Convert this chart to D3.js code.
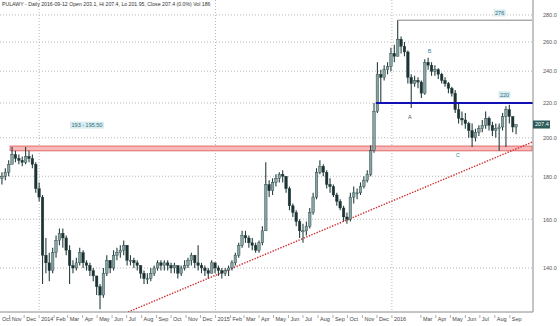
<!DOCTYPE html>
<html>
<head>
<meta charset="utf-8">
<script src="https://cdn.jsdelivr.net/npm/d3@7"></script>
<style>
  body { margin: 0; background: #fff; }
  svg { display: block; font-family: "Liberation Sans", Arial, sans-serif; }
</style>
</head>
<body>
<div id="chart"></div>
<script>
/*------------------------------------------*/
/*            Data (weekly bars)            */
/*------------------------------------------*/

var firstWeek = "2013-10-14";
var firstOpen = 179;

var highs = [182, 184, 188, 195, 193, 191, 190, 195, 193, 191,
  187, 177, 171, 152, 146, 148, 153, 156, 156, 153,
  149, 143, 144, 148, 147, 143, 142, 140, 137, 134,
  140, 145, 143, 147, 148, 149, 151, 149, 145, 144,
  143, 141, 139, 138, 140, 141, 143, 143, 143, 143,
  142, 142, 140, 141, 143, 144, 146, 145, 149, 142,
  141, 140, 143, 142, 141, 140, 140, 141, 143, 146,
  150, 155, 155, 153, 152, 150, 151, 157, 187, 178,
  179, 181, 182, 183, 180, 175, 167, 164, 160, 158,
  159, 165, 172, 184, 188, 186, 183, 179, 176, 172,
  169, 166, 163, 172, 175, 174, 177, 180, 183, 196,
  220, 246, 241, 244, 246, 256, 258, 276, 264, 260,
  254, 238, 237, 236, 234, 248, 249, 246, 244, 242,
  239, 236, 233, 230, 228, 220, 215, 214, 209, 208,
  205, 207, 210, 215, 212, 209, 208, 208, 214, 218,
  219, 212, 207.4];

var lows = [176, 178, 180, 186, 187, 186, 185, 186, 187, 184,
  172, 168, 134, 138, 135, 138, 144, 149, 148, 145,
  134, 138, 139, 141, 140, 139, 137, 135, 130, 125,
  129, 137, 138, 139, 143, 144, 145, 141, 141, 140,
  139, 136, 134, 134, 135, 137, 139, 139, 139, 139,
  138, 138, 136, 137, 139, 140, 141, 140, 139, 138,
  137, 136, 138, 138, 137, 136, 137, 137, 139, 141,
  144, 148, 150, 148, 147, 146, 146, 149, 155, 170,
  171, 175, 177, 177, 172, 164, 161, 157, 152, 150,
  153, 156, 162, 169, 181, 180, 174, 172, 170, 166,
  164, 159, 158, 159, 167, 169, 171, 174, 177, 180,
  192, 214, 220, 234, 238, 240, 246, 250, 252, 250,
  232, 217, 230, 229, 223, 225, 241, 237, 237, 235,
  232, 230, 226, 224, 214, 208, 207, 205, 200, 195,
  198, 201, 203, 205, 204, 201, 200, 193, 204, 195,
  208, 203, 201.95];

var closes = [180, 182, 186, 191, 189, 188, 187, 190, 189, 186,
  174, 170, 145, 142, 139, 146, 151, 154, 152, 147,
  141, 140, 142, 146, 142, 141, 139, 137, 133, 130,
  138, 143, 140, 145, 146, 147, 149, 143, 143, 142,
  141, 138, 136, 136, 138, 140, 142, 141, 142, 141,
  140, 141, 138, 140, 141, 143, 145, 142, 141, 140,
  139, 138, 142, 140, 139, 138, 139, 140, 142, 145,
  149, 153, 152, 150, 149, 147, 150, 155, 176, 173,
  177, 179, 181, 180, 174, 166, 163, 159, 155, 155,
  157, 163, 170, 182, 185, 182, 176, 175, 171, 168,
  165, 161, 160, 170, 172, 172, 175, 178, 181, 193,
  215, 238, 236, 241, 243, 252, 250, 262, 257, 253,
  236, 232, 234, 233, 226, 246, 244, 240, 241, 238,
  234, 232, 229, 226, 216, 211, 210, 208, 204, 200,
  203, 205, 207, 211, 207, 204, 205, 206, 212, 216,
  212, 206, 207.4];

var priceTicks = [140, 160, 180, 200, 220, 240, 260, 280];
var yearLines = ["2014-01-01", "2015-01-01", "2016-01-01"];

var monthTicks = ["2013-10-01", "2013-11-01", "2013-12-01",
  "2014-01-01", "2014-02-01", "2014-03-01", "2014-04-01", "2014-05-01", "2014-06-01",
  "2014-07-01", "2014-08-01", "2014-09-01", "2014-10-01", "2014-11-01", "2014-12-01",
  "2015-01-01", "2015-02-01", "2015-03-01", "2015-04-01", "2015-05-01", "2015-06-01",
  "2015-07-01", "2015-08-01", "2015-09-01", "2015-10-01", "2015-11-01", "2015-12-01",
  "2016-01-01", "2016-03-01", "2016-04-01", "2016-05-01", "2016-06-01",
  "2016-07-01", "2016-08-01", "2016-09-01"];
var monthLabels = ["Oct", "Nov", "Dec",
  "2014", "Feb", "Mar", "Apr", "May", "Jun", "Jul", "Aug", "Sep", "Oct", "Nov", "Dec",
  "2015", "Feb", "Mar", "Apr", "May", "Jun", "Jul", "Aug", "Sep", "Oct", "Nov", "Dec",
  "2016", "Mar", "Apr", "May", "Jun", "Jul", "Aug", "Sep"];

// drawn levels
var zoneLow = 193, zoneHigh = 195.5, zoneStart = "2013-11-02";
var resistance = 220, resistanceStart = "2015-11-29";
var peak = 276, peakDate = "2016-01-13";
var trendDates = ["2014-07-04", "2016-10-18"], trendPrices = [124.1, 197.7];
var lastPrice = 207.4;

var notes = [
  {text: "276", date: "2016-08-11", price: 281.5, box: true},
  {text: "220", date: "2016-08-21", price: 225, box: true},
  {text: "193 - 195.50", date: "2014-04-10", price: 207, box: true},
  {text: "B", date: "2016-03-19", price: 253.7, box: false, color: "#3a8a96"},
  {text: "A", date: "2016-02-07", price: 211.7, box: false, color: "#555"},
  {text: "C", date: "2016-05-16", price: 190.7, box: false, color: "#3a8a96"}
];

var header = "PULAWY - Daily 2016-09-12 Open 203.1, Hi 207.4, Lo 201.95, Close 207.4 (0.0%) Vol 186";

/*------------------------------------------*/
/*            Scales                        */
/*------------------------------------------*/

var W = 560, H = 326,
    plotRight = 533, plotBottom = 312;

var parseDate = d3.utcParse("%Y-%m-%d");

var x = d3.scaleUtc()
    .domain([parseDate("2013-10-12"), parseDate("2016-10-19")])
    .range([0, plotRight]);
var y = d3.scaleLog()
    .domain([124.1, 291.7])
    .range([plotBottom, 0]);

var bars = highs.map(function(h, i) {
  return {
    date: d3.utcDay.offset(parseDate(firstWeek), 7 * i + 2),
    open: i === 0 ? firstOpen : closes[i - 1],
    high: h, low: lows[i], close: closes[i]
  };
});

var svg = d3.select("#chart").append("svg")
    .attr("width", W)
    .attr("height", H);

svg.append("rect").attr("width", W).attr("height", H).style("fill", "#fff");

svg.append("clipPath").attr("id", "plotClip")
  .append("rect")
    .attr("width", plotRight)
    .attr("height", plotBottom);

/*------------------------------------------*/
/*            Grid                          */
/*------------------------------------------*/

svg.selectAll(".hgrid")
    .data(priceTicks)
  .enter().append("line")
    .attr("class", "hgrid")
    .attr("x1", 0).attr("x2", plotRight)
    .attr("y1", function(d) { return y(d); })
    .attr("y2", function(d) { return y(d); })
    .style("stroke", "#b8b8b8")
    .style("stroke-dasharray", "1,2");

svg.selectAll(".vgrid")
    .data(yearLines)
  .enter().append("line")
    .attr("class", "vgrid")
    .attr("x1", function(d) { return x(parseDate(d)); })
    .attr("x2", function(d) { return x(parseDate(d)); })
    .attr("y1", 0).attr("y2", plotBottom)
    .style("stroke", "#b8b8b8")
    .style("stroke-dasharray", "1,2");

/*------------------------------------------*/
/*            Zone, trend                   */
/*------------------------------------------*/

svg.append("rect")
    .attr("x", x(parseDate(zoneStart)))
    .attr("y", y(zoneHigh))
    .attr("width", plotRight - 1 - x(parseDate(zoneStart)))
    .attr("height", y(zoneLow) - y(zoneHigh))
    .style("fill", "#f7b9b9")
    .style("stroke", "#e06a6a")
    .style("stroke-width", 1);

svg.append("line")
    .attr("clip-path", "url(#plotClip)")
    .attr("x1", x(parseDate(trendDates[0])))
    .attr("y1", y(trendPrices[0]))
    .attr("x2", x(parseDate(trendDates[1])))
    .attr("y2", y(trendPrices[1]))
    .style("stroke", "#d42a2a")
    .style("stroke-width", 1.4)
    .style("stroke-dasharray", "1.4,1.4");

/*------------------------------------------*/
/*            Candles                       */
/*------------------------------------------*/

var bodyW = 2.6;

var candle = svg.append("g").attr("clip-path", "url(#plotClip)")
  .selectAll(".bar")
    .data(bars)
  .enter().append("g")
    .attr("class", "bar");

candle.append("line")
    .attr("x1", function(d) { return x(d.date); })
    .attr("x2", function(d) { return x(d.date); })
    .attr("y1", function(d) { return y(d.high); })
    .attr("y2", function(d) { return y(d.low); })
    .style("stroke", "#263f3f")
    .style("stroke-width", 1.1);

candle.append("rect")
    .attr("x", function(d) { return x(d.date) - bodyW / 2; })
    .attr("width", bodyW)
    .attr("y", function(d) { return y(Math.max(d.open, d.close)); })
    .attr("height", function(d) { return Math.max(1, Math.abs(y(d.open) - y(d.close))); })
    .style("fill", function(d) { return d.close >= d.open ? "#86a2a2" : "#1d3333"; })
    .style("stroke", "#263f3f")
    .style("stroke-width", 0.4);

/*------------------------------------------*/
/*            Levels                        */
/*------------------------------------------*/

svg.append("line")
    .attr("x1", x(parseDate(resistanceStart)))
    .attr("x2", plotRight)
    .attr("y1", y(resistance)).attr("y2", y(resistance))
    .style("stroke", "#1010b4")
    .style("stroke-width", 2.2);

svg.append("line")
    .attr("x1", x(parseDate(peakDate)))
    .attr("x2", plotRight - 1)
    .attr("y1", y(peak)).attr("y2", y(peak))
    .style("stroke", "#666")
    .style("stroke-width", 0.8);

var note = svg.selectAll(".note")
    .data(notes)
  .enter().append("g")
    .attr("class", "note")
    .attr("transform", function(d) { return "translate(" + x(parseDate(d.date)) + "," + y(d.price) + ")"; });

note.append("text")
    .attr("text-anchor", "middle")
    .attr("dy", "0.35em")
    .style("font-size", "5.5px")
    .style("fill", function(d) { return d.box ? "#2f6f7c" : d.color; })
    .text(function(d) { return d.text; });

note.filter(function(d) { return d.box; }).each(function() {
  var g = d3.select(this),
      bb = g.select("text").node().getBBox();
  g.insert("rect", "text")
      .attr("x", bb.x - 1.5)
      .attr("y", bb.y - 0.5)
      .attr("width", bb.width + 3)
      .attr("height", bb.height + 1)
      .style("fill", "#d8ecf0");
});

/*------------------------------------------*/
/*            Frame and axes                */
/*------------------------------------------*/

svg.append("line")
    .attr("x1", plotRight).attr("x2", plotRight)
    .attr("y1", 0).attr("y2", plotBottom)
    .style("stroke", "#8a8a8a");
svg.append("line")
    .attr("x1", 0).attr("x2", plotRight)
    .attr("y1", plotBottom).attr("y2", plotBottom)
    .style("stroke", "#8a8a8a");

var yAxis = svg.append("g")
    .attr("transform", "translate(" + plotRight + ",0)")
    .call(d3.axisRight(y).tickValues(priceTicks).tickFormat(d3.format(".1f")).tickSize(0).tickPadding(10));
yAxis.select(".domain").remove();
yAxis.selectAll("text")
    .style("font-size", "5.5px")
    .style("font-family", "Liberation Sans, Arial, sans-serif")
    .style("fill", "#555");

// month labels along the bottom
var month = svg.selectAll(".month")
    .data(monthTicks)
  .enter().append("g")
    .attr("class", "month")
    .attr("transform", function(d) { return "translate(" + x(parseDate(d)) + "," + plotBottom + ")"; });

month.append("line")
    .attr("y1", 3).attr("y2", 6)
    .style("stroke", "#777")
    .style("stroke-width", 0.6);

month.append("text")
    .attr("x", function(d) { return Math.max(2 - x(parseDate(d)), 2); })
    .attr("y", 9)
    .style("font-size", "5.5px")
    .style("fill", "#444")
    .text(function(d, i) { return monthLabels[i]; });

// last price marker
var lp = svg.append("g")
    .attr("transform", "translate(" + plotRight + "," + y(lastPrice) + ")");
lp.append("rect")
    .attr("x", 0).attr("y", -4)
    .attr("width", 17).attr("height", 8)
    .style("fill", "#2d5b5b");
lp.append("text")
    .attr("x", 2).attr("dy", "0.35em")
    .style("font-size", "5.5px")
    .style("fill", "#fff")
    .text(d3.format(".1f")(lastPrice));

svg.append("text")
    .attr("x", 2).attr("y", 6)
    .style("font-size", "5.2px")
    .style("fill", "#333")
    .text(header);
</script>
</body>
</html>
